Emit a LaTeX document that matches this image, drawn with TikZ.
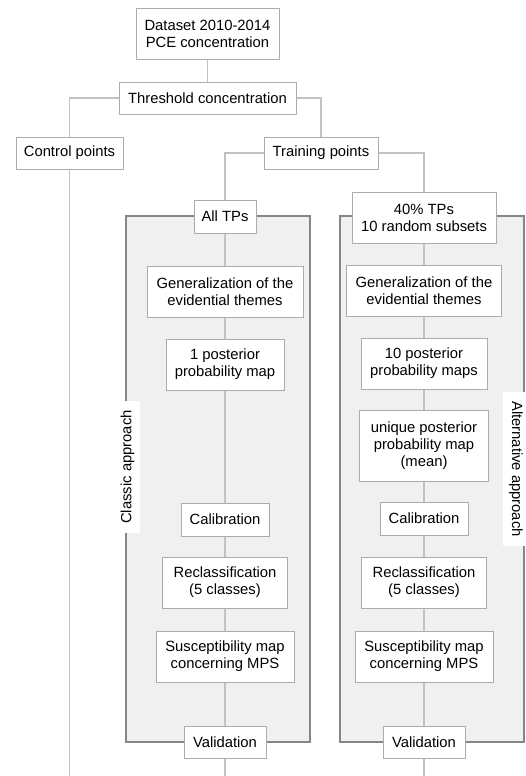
\documentclass[tikz,border=0pt]{standalone}
\usepackage{fontspec}
\setmainfont{Liberation Sans}
\definecolor{boxline}{HTML}{ACACAC}
\definecolor{conline}{HTML}{C2C2C2}
\definecolor{panelfill}{HTML}{F0F0F0}
\definecolor{panelline}{HTML}{868686}
\begin{document}
\begin{tikzpicture}[x=1pt,y=-1pt,
  box/.style={draw=boxline,line width=1pt,fill=white,align=center,inner sep=0pt,
    font=\fontsize{14.8}{17}\selectfont},
  con/.style={draw=conline,line width=1.3pt},
  panel/.style={draw=panelline,fill=panelfill,line width=2.6pt},
  sidelabel/.style={fill=white,inner xsep=9pt,inner ysep=6pt,
    font=\fontsize{14.8}{17}\selectfont}]
\useasboundingbox (0,0) rectangle (525,776);
% panels
\draw[panel] (126,216) rectangle (310,742);
\draw[panel] (340,216) rectangle (524,742);
% top part
\node[box,minimum width=143pt,minimum height=51pt] (data) at (207.5,34) {Dataset 2010-2014\\PCE concentration};
\node[box,minimum width=177pt,minimum height=32pt] (thr) at (207.5,98) {Threshold concentration};
\node[box,minimum width=107pt,minimum height=32pt] (ctrl) at (69.5,153) {Control points};
\node[box,minimum width=114pt,minimum height=32pt] (train) at (321,153) {Training points};
% left column
\node[box,minimum width=62pt,minimum height=33pt] (alltp) at (225,216.5) {All TPs};
\node[box,minimum width=156pt,minimum height=51pt] (gen1) at (225,291.5) {Generalization of the\\evidential themes};
\node[box,minimum width=118pt,minimum height=51pt] (post1) at (225,364.5) {1 posterior\\probability map};
\node[box,minimum width=88pt,minimum height=33pt] (cal1) at (225,519.5) {Calibration};
\node[box,minimum width=125pt,minimum height=51pt] (recl1) at (225,582.5) {Reclassification\\(5 classes)};
\node[box,minimum width=138pt,minimum height=51pt] (sus1) at (225,656.5) {Susceptibility map\\concerning MPS};
\node[box,minimum width=82pt,minimum height=32pt] (val1) at (225,742) {Validation};
% right column
\node[box,minimum width=144pt,minimum height=51pt] (tp40) at (424,217.5) {40\% TPs\\10 random subsets};
\node[box,minimum width=155pt,minimum height=51pt] (gen2) at (424,290.5) {Generalization of the\\evidential themes};
\node[box,minimum width=126pt,minimum height=51pt] (post2) at (424,363.5) {10 posterior\\probability maps};
\node[box,minimum width=129pt,minimum height=71pt] (uniq) at (424,445.5) {unique posterior\\probability map\\(mean)};
\node[box,minimum width=88pt,minimum height=33pt] (cal2) at (424,518.5) {Calibration};
\node[box,minimum width=125pt,minimum height=51pt] (recl2) at (424,582.5) {Reclassification\\(5 classes)};
\node[box,minimum width=138pt,minimum height=51pt] (sus2) at (424,656.5) {Susceptibility map\\concerning MPS};
\node[box,minimum width=82pt,minimum height=32pt] (val2) at (424,742) {Validation};
% side labels
\node[sidelabel,rotate=90] (classic) at (127.5,467) {Classic approach};
\node[sidelabel,rotate=-90] (altern) at (516,469) {Alternative approach};
% free ends
\coordinate (ctrlend) at (69.5,776);
\coordinate (leftend) at (225,776);
\coordinate (rightend) at (424,776);
% connectors
\draw[con] (data.south) -- (thr.north);
\draw[con] (thr.west) -| (ctrl.north);
\draw[con] (thr.east) -| (train.north);
\draw[con] (train.west) -| (alltp.north);
\draw[con] (train.east) -| (tp40.north);
\draw[con] (ctrl.south) -- (ctrlend);
\draw[con] (alltp.south) -- (gen1.north);
\draw[con] (gen1.south) -- (post1.north);
\draw[con] (post1.south) -- (cal1.north);
\draw[con] (cal1.south) -- (recl1.north);
\draw[con] (recl1.south) -- (sus1.north);
\draw[con] (sus1.south) -- (val1.north);
\draw[con] (val1.south) -- (leftend);
\draw[con] (tp40.south) -- (gen2.north);
\draw[con] (gen2.south) -- (post2.north);
\draw[con] (post2.south) -- (uniq.north);
\draw[con] (uniq.south) -- (cal2.north);
\draw[con] (cal2.south) -- (recl2.north);
\draw[con] (recl2.south) -- (sus2.north);
\draw[con] (sus2.south) -- (val2.north);
\draw[con] (val2.south) -- (rightend);
\end{tikzpicture}
\end{document}
